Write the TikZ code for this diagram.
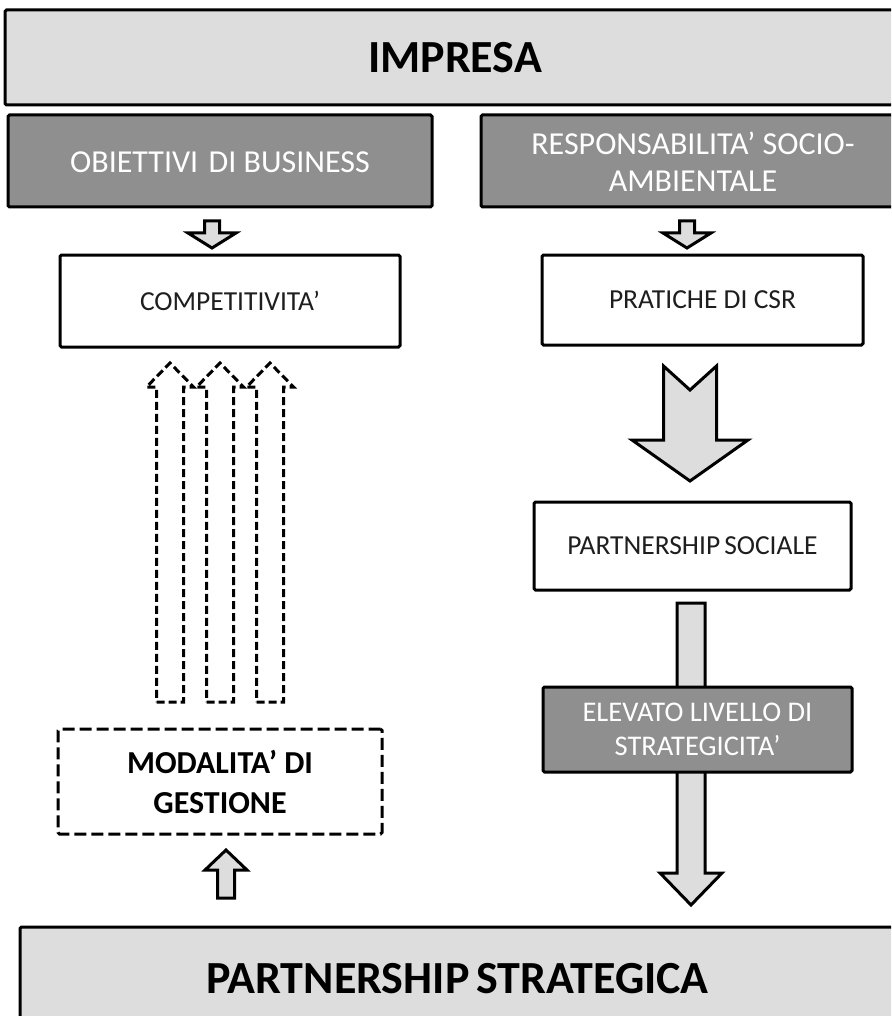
\documentclass[tikz,border=0pt]{standalone}
\usepackage{fontspec}
\setmainfont{Carlito}
\definecolor{lightfill}{RGB}{221,221,221}
\definecolor{darkfill}{RGB}{143,143,143}
\definecolor{textgray}{RGB}{30,30,30}

% Block arrow: x, tail y, tip y, shaft half width, head half width, head length, tail notch, style
\newcommand\blockarrow[8]{%
  \pgfmathsetmacro\baDir{sign(#3-#2)}%
  \pgfmathsetmacro\baYb{#3-#6*\baDir}%
  \pgfmathsetmacro\baYn{#2+#7*\baDir}%
  \draw[#8] (#1-#4,#2) -- (#1,\baYn) -- (#1+#4,#2) -- (#1+#4,\baYb)
    -- (#1+#5,\baYb) -- (#1,#3) -- (#1-#5,\baYb) -- (#1-#4,\baYb) -- cycle;}

% text lowered inside its box while keeping its measured extent
\newcommand\lowered[2]{\raisebox{-#1}[\height][\depth]{#2}}
\newcommand\lowpair[3]{\lowered{#3}{\begin{tabular}{@{}c@{}}#1\\#2\end{tabular}}}

\begin{document}
\begin{tikzpicture}[x=1pt,y=-1pt,
  frame/.style={draw=black, line width=3pt, rounded corners=1.5pt, inner sep=0pt, align=center},
  titlebox/.style={frame, fill=lightfill, font=\bfseries\fontsize{46}{52}\selectfont},
  darkbox/.style={frame, fill=darkfill, text=white, font=\fontsize{32}{37}\selectfont},
  whitebox/.style={frame, fill=white, text=textgray, font=\fontsize{27.5}{33}\selectfont},
  dashbox/.style={frame, fill=white, dash pattern=on 12pt off 5pt, font=\bfseries\fontsize{32}{40}\selectfont},
  solidarrow/.style={draw=black, line width=3pt, fill=lightfill, line join=miter},
  dasharrow/.style={draw=black, line width=3pt, fill=white, dash pattern=on 8pt off 4pt}
]
\clip (0,0) rectangle (891,1016);
\fill[white] (0,0) rectangle (891,1016);

% block arrows (drawn first so the boxes sit on top)
\blockarrow{212}{221}{248}{7.5}{24}{15}{0}{solidarrow}
\blockarrow{687}{221}{248}{7.5}{24}{15}{0}{solidarrow}
\blockarrow{690}{366}{481}{26.5}{58}{41}{24}{solidarrow}
\blockarrow{691}{603}{905}{14}{31}{32}{0}{solidarrow}
\blockarrow{226}{898}{850}{8.5}{21}{20}{0}{solidarrow}
\blockarrow{170}{702}{363}{13.5}{23.5}{24}{0}{dasharrow}
\blockarrow{220}{702}{363}{13.5}{23.5}{24}{0}{dasharrow}
\blockarrow{270}{702}{363}{13.5}{23.5}{24}{0}{dasharrow}

% boxes
\node[titlebox, minimum width=900, minimum height=95] (impresa) at (455,57.5) {IMPRESA};
\node[darkbox, minimum width=424, minimum height=92] (obiettivi) at (220,161)
  {\lowered{1.5pt}{OBIETTIVI\hspace{0.1em} DI BUSINESS}};
\node[darkbox, minimum width=424, minimum height=92] (resp) at (693,161)
  {\lowpair{RESPONSABILITA’ SOCIO-}{AMBIENTALE}{5pt}};
\node[whitebox, minimum width=340, minimum height=92] (comp) at (230,301) {COMPETITIVITA’};
\node[whitebox, minimum width=321, minimum height=90] (csr) at (702.5,300) {PRATICHE DI CSR};
\node[whitebox, minimum width=317, minimum height=88] (psoc) at (692.5,546)
  {PARTNERSHIP\hspace{-0.08em} SOCIALE};
\node[darkbox, font=\fontsize{28.5}{34}\selectfont, minimum width=309, minimum height=85] (elev) at (697.5,729.5)
  {ELEVATO LIVELLO DI\\STRATEGICITA’};
\node[dashbox, minimum width=324, minimum height=105] (modal) at (220,781.5)
  {MODALITA’ DI\\GESTIONE};
\node[titlebox, minimum width=875, minimum height=103] (pstrat) at (457.5,978.5)
  {PARTNERSHIP\hspace{-0.08em} STRATEGICA};
\end{tikzpicture}
\end{document}
